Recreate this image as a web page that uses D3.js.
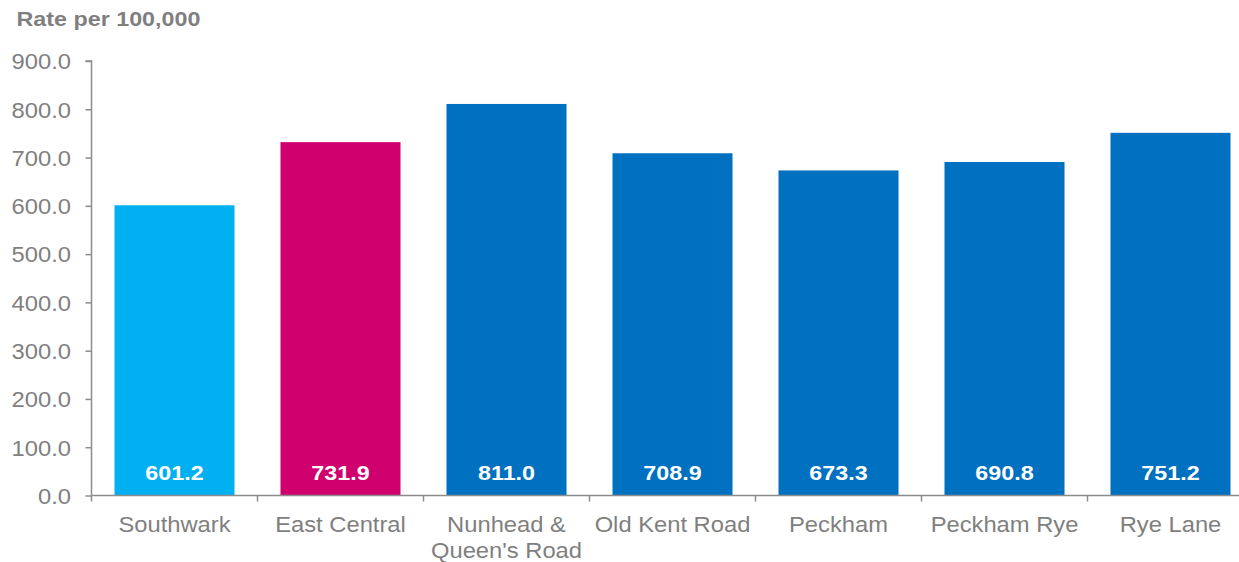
<!DOCTYPE html>
<html>
<head>
<meta charset="utf-8">
<script src="https://cdn.jsdelivr.net/npm/d3@7"></script>
<style>
  html, body { margin: 0; padding: 0; background: #fff; }
  svg { display: block; font-family: "Liberation Sans", Arial, sans-serif; }
</style>
</head>
<body>
<svg id="chart" width="1239" height="562"></svg>
<script>
const categories = ["Southwark", "East Central", "Nunhead & Queen's Road", "Old Kent Road", "Peckham", "Peckham Rye", "Rye Lane"];
const values = [601.2, 731.9, 811.0, 708.9, 673.3, 690.8, 751.2];
const barColors = ["#00B0F0", "#D0006F", "#0070C0", "#0070C0", "#0070C0", "#0070C0", "#0070C0"];
const yTicks = [0, 100, 200, 300, 400, 500, 600, 700, 800, 900];
const yTitle = "Rate per 100,000";

const svg = d3.select("#chart");
const gray = "#7f7f7f";
const axisGray = "#8c8c8c";
const sx = 1.08;
const bsx = 1.11;

const x = d3.scaleBand().domain(categories).range([91.5, 1253.5]).paddingInner(0.277).paddingOuter(0.1385);
const y = d3.scaleLinear().domain([0, 900]).range([495.5, 61]);

// title
svg.append("text")
  .attr("transform", `translate(16.5,26) scale(${bsx},1)`)
  .attr("font-size", 21).attr("font-weight", "bold").attr("fill", gray)
  .text(yTitle);

// bars
svg.selectAll("rect.bar").data(values).join("rect")
  .attr("class", "bar")
  .attr("x", (d, i) => x(categories[i]))
  .attr("width", x.bandwidth())
  .attr("y", d => y(d))
  .attr("height", d => y(0) - y(d))
  .attr("fill", (d, i) => barColors[i]);

// value labels
svg.selectAll("text.val").data(values).join("text")
  .attr("class", "val")
  .attr("transform", (d, i) => `translate(${x(categories[i]) + x.bandwidth() / 2},479.5) scale(${bsx},1)`)
  .attr("text-anchor", "middle")
  .attr("font-size", 21).attr("font-weight", "bold").attr("fill", "#ffffff")
  .text(d => d.toFixed(1));

// y axis
const yAxis = d3.axisLeft(y).tickValues(yTicks).tickSize(6).tickPadding(0).tickFormat(d => d3.format(".1f")(d));
const gy = svg.append("g").attr("transform", "translate(91.5,0)").call(yAxis);
gy.select(".domain").attr("stroke", axisGray).attr("stroke-width", 1.5).attr("d", `M-6,${y(900)}H0V${y(0)}`);
gy.selectAll(".tick line").attr("stroke", axisGray).attr("stroke-width", 1.5);
gy.selectAll(".tick text")
  .attr("x", null).attr("dy", null)
  .attr("font-size", 22).attr("fill", gray).attr("font-family", "Liberation Sans, Arial, sans-serif")
  .attr("text-anchor", "end")
  .attr("transform", `translate(-20.5,7.8) scale(${sx},1)`);

// x axis
const bounds = categories.map(c => x(c) - x.step() * x.paddingInner() / 2);
bounds.push(1253.5);
const gx = svg.append("g").attr("transform", `translate(0,${y(0)})`);
gx.append("path").attr("d", `M${bounds[0]},0H${bounds[bounds.length - 1]}`)
  .attr("stroke", axisGray).attr("stroke-width", 1.5).attr("fill", "none");
gx.selectAll("line.tk").data(bounds.slice(0, -1)).join("line")
  .attr("class", "tk")
  .attr("x1", d => d).attr("x2", d => d).attr("y1", 0).attr("y2", 6)
  .attr("stroke", axisGray).attr("stroke-width", 1.5);

// category labels with wrapping
categories.forEach((c, i) => {
  const cx = x(c) + x.bandwidth() / 2;
  const maxW = x.step() * 0.98 / sx;
  const g = svg.append("g").attr("transform", `translate(${cx},531.5) scale(${sx},1)`);
  const words = c.split(" ");
  const lines = [];
  let cur = [];
  const probe = g.append("text").attr("font-size", 22);
  words.forEach(w => {
    const test = cur.concat([w]).join(" ");
    probe.text(test);
    if (probe.node().getComputedTextLength() > maxW && cur.length) {
      lines.push(cur.join(" "));
      cur = [w];
    } else cur.push(w);
  });
  lines.push(cur.join(" "));
  probe.remove();
  lines.forEach((ln, k) => {
    g.append("text")
      .attr("y", k * 26.5)
      .attr("text-anchor", "middle")
      .attr("font-size", 22).attr("fill", gray)
      .text(ln);
  });
});
</script>
</body>
</html>
